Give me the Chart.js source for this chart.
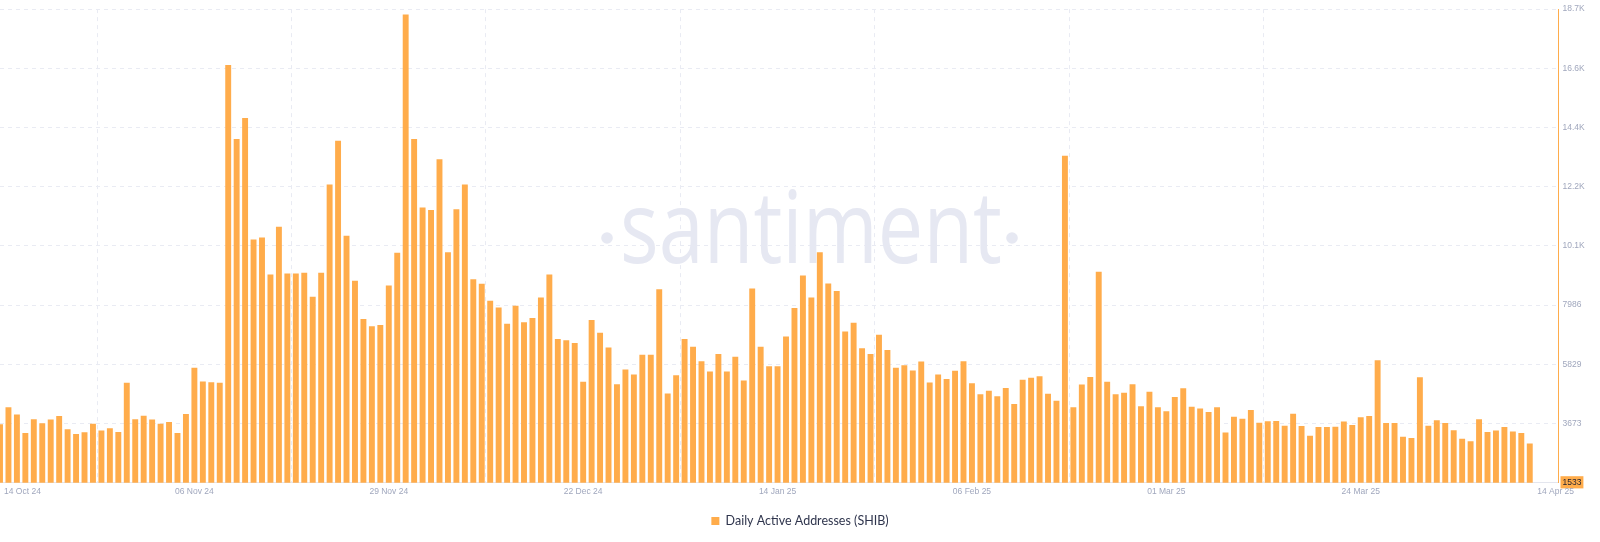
<!DOCTYPE html>
<html>
<head>
<meta charset="utf-8">
<script src="https://cdn.jsdelivr.net/npm/chart.js@4.4.1/dist/chart.umd.min.js"></script>
<style>
    html, body { margin: 0; padding: 0; background: #fff; }
    #wrap { width: 1600px; height: 542px; position: relative; }
</style>
</head>
<body>
<div id="wrap"><canvas id="dau-chart"></canvas></div>
<script>
// daily active addresses, one value per day from 14 Oct 24 to 13 Apr 25
const activeAddresses = [
    3644, 4268, 4006, 3332, 3831, 3681, 3819, 3944, 3469, 3294,
    3357, 3669, 3419, 3506, 3369, 5155, 3831, 3956, 3819, 3669,
    3731, 3332, 4019, 5705, 5205, 5180, 5155, 16733, 14035, 14797,
    10376, 10451, 9102, 10838, 9139, 9139, 9164, 8290, 9164, 12374,
    13973, 10513, 8877, 7478, 7216, 7266, 8702, 9889,
    18569, 14035, 11537, 11450, 13299, 9914, 11475, 12374, 8927, 8765,
    8140, 7903, 7303, 7965, 7366, 7516, 8265, 9102, 6754, 6704,
    6604, 5193, 7441, 6979, 6442, 5105, 5642, 5455, 6179, 6179,
    8565, 4768, 5430, 6754, 6467, 5942, 5567, 6204, 5567, 6104,
    5243, 8590, 6467, 5755, 5755,
    6841, 7878, 9064, 8265, 9914, 8777, 8502, 7029, 7341, 6417,
    6204, 6904, 6354, 5705, 5792, 5605, 5929, 5168, 5455, 5292,
    5592, 5942, 5143, 4743, 4868, 4668, 4968, 4381, 5268, 5342,
    5392, 4755, 4506, 13423, 4268, 5093, 5367, 9202, 5193, 4743,
    4793, 5105, 4306, 4830, 4268,
    4118, 4643, 4955, 4281, 4218, 4093, 4268, 3344, 3919, 3844,
    4168, 3706, 3756, 3769, 3594, 4031, 3581, 3232, 3544, 3544,
    3556, 3744, 3619, 3906, 3944, 5979, 3694, 3694, 3194, 3144,
    5355, 3594, 3794, 3694, 3431, 3119, 3032, 3831, 3369, 3419,
    3544, 3382, 3332, 2944
];

// x axis: day index from 14 Oct 24
const xTickIdx = [0, 23, 46, 69, 92, 115, 138, 161, 182];
const xTickLabels = ["14 Oct 24", "06 Nov 24", "29 Nov 24", "22 Dec 24", "14 Jan 25",
                     "06 Feb 25", "01 Mar 25", "24 Mar 25", "14 Apr 25"];

// y axis
const yTickValues = [1533, 3673, 5829, 7986, 10141, 12297, 14453, 16609, 18765];
const yTickLabels = ["1533", "3673", "5829", "7986", "10.1K", "12.2K", "14.4K", "16.6K", "18.7K"];

// category labels (dates)
const monthNames = ["Jan", "Feb", "Mar", "Apr", "May", "Jun", "Jul", "Aug", "Sep", "Oct", "Nov", "Dec"];
const dayLabels = activeAddresses.map((v, i) => {
    const d = new Date(Date.UTC(2024, 9, 14 + i));
    return String(d.getUTCDate()).padStart(2, "0") + " " + monthNames[d.getUTCMonth()] + " " + String(d.getUTCFullYear()).slice(2);
});

const orange = '#ffac4b';
const gridColor = '#e9ebf3';
const tickColor = '#a0a7bd';

// santiment watermark behind the bars
const watermark = {
    id: 'watermark',
    beforeDatasetsDraw(chart) {
        const ctx = chart.ctx;
        ctx.save();
        ctx.fillStyle = '#e6e8f2';
        ctx.font = '100px "Open Sans"';
        const w = ctx.measureText('santiment').width;
        ctx.translate(811, 263);
        ctx.scale(382 / w, 1);
        ctx.textAlign = 'center';
        ctx.textBaseline = 'alphabetic';
        ctx.fillText('santiment', 0, 0);
        ctx.restore();
        ctx.save();
        ctx.fillStyle = '#e6e8f2';
        [607, 1012].forEach(cx => {
            ctx.beginPath();
            ctx.arc(cx, 238, 5.8, 0, Math.PI * 2);
            ctx.fill();
        });
        ctx.restore();
    }
};

// date labels under the bars
const xLabels = {
    id: 'xLabels',
    afterDraw(chart) {
        const {ctx, chartArea, scales} = chart;
        ctx.save();
        ctx.font = '8.5px "Liberation Sans"';
        ctx.fillStyle = tickColor;
        ctx.textBaseline = 'middle';
        xTickIdx.forEach((v, i) => {
            const px = scales.x.getPixelForValue(v);
            let tx = px;
            ctx.textAlign = 'center';
            if (i === 0) { ctx.textAlign = 'left'; tx = px + 4; }
            if (i === xTickIdx.length - 1) { ctx.textAlign = 'left'; tx = px - 1; }
            ctx.fillText(xTickLabels[i], tx, chartArea.bottom + 9);
        });
        ctx.restore();
    }
};

const dauCanvas = document.getElementById("dau-chart");

let dauChart = new Chart(dauCanvas, {
    type: 'bar',
    data: {
        labels: dayLabels,
        datasets: [{
            label: 'Daily Active Addresses (SHIB)',
            data: activeAddresses.map((v, i) => ({x: i, y: v})),
            backgroundColor: orange,
            borderWidth: 0,
            barPercentage: 0.7,
            categoryPercentage: 1
        }]
    },
    options: {
        responsive: true,
        maintainAspectRatio: false,
        animation: false,
        layout: {
            padding: { top: 0, right: 0, bottom: 4.75, left: 0 }
        },
        scales: {
            x: {
                type: 'linear',
                min: 0,
                max: 184.4,
                offset: false,
                afterBuildTicks: s => { s.ticks = xTickIdx.map(v => ({value: v})); },
                afterFit: s => { s.height = 22; },
                ticks: { display: false },
                grid: {
                    color: c => (c.tick && c.tick.value < 170) ? gridColor : 'rgba(0,0,0,0)',
                    drawTicks: false
                },
                border: { display: true, color: '#e4e6ee', width: 1, dash: [4, 4] }
            },
            y: {
                position: 'right',
                min: 1517,
                max: 18765,
                afterBuildTicks: s => { s.ticks = yTickValues.map(v => ({value: v})); },
                afterFit: s => { s.width = 41.5; },
                grid: {
                    color: c => c.index === 0 ? 'rgba(0,0,0,0)' : gridColor,
                    drawTicks: false
                },
                border: { display: true, color: orange, width: 1, dash: [4, 4] },
                ticks: {
                    autoSkip: false,
                    padding: 4,
                    font: { family: 'Liberation Sans', size: 8.5 },
                    color: c => c.index === 0 ? '#1d2030' : tickColor,
                    callback: (v, i) => yTickLabels[i],
                    showLabelBackdrop: c => c.index === 0,
                    backdropColor: orange,
                    backdropPadding: { top: 1, bottom: 1, left: 2, right: 2 }
                }
            }
        },
        plugins: {
            legend: {
                position: 'bottom',
                labels: {
                    boxWidth: 8,
                    boxHeight: 8,
                    padding: 10,
                    color: '#2f354d',
                    font: { family: 'Lato', size: 12.5 }
                }
            },
            tooltip: { enabled: false }
        }
    },
    plugins: [watermark, xLabels]
});
</script>
</body>
</html>
